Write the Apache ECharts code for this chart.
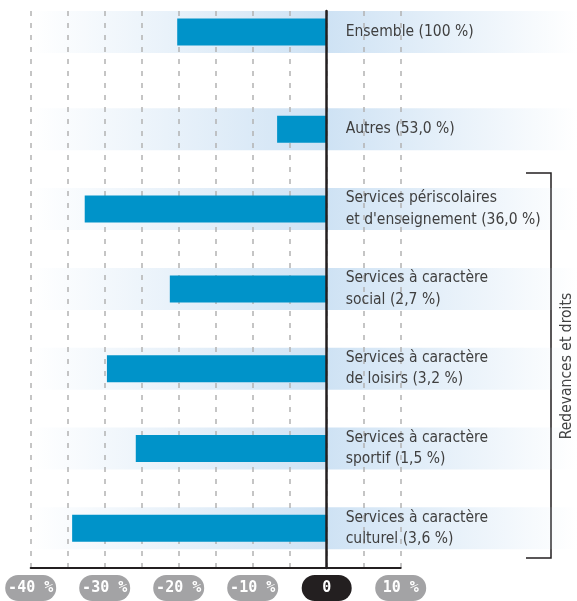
<!DOCTYPE html>
<html lang="fr">
<head>
    <meta charset="UTF-8">
    <title>Redevances et droits</title>
    <style>
        body {
            margin: 0px;
            padding: 0px;
            background: #ffffff;
        }

        #chart {
            width: 577px;
            height: 601px;
        }
    </style>
</head>
<body>
    <div id="chart"></div>
    <script src="https://cdn.jsdelivr.net/npm/echarts@6.0.0/dist/echarts.min.js"></script>
    <script>
        // first row is the total, the rest share one grid
        var categories = [
            'Ensemble (100 %)',
            'Autres (53,0 %)',
            'Services périscolaires\net d\'enseignement (36,0 %)',
            'Services à caractère\nsocial (2,7 %)',
            'Services à caractère\nde loisirs (3,2 %)',
            'Services à caractère\nsportif (1,5 %)',
            'Services à caractère\nculturel (3,6 %)'
        ];
        var values = [-20.2, -6.7, -32.7, -21.2, -29.7, -25.8, -34.4];
        var xMin = -40;
        var xMax = 10;
        var xStep = 5;
        var labelStep = 10;
        var groupTitle = 'Redevances et droits';

        var labelFont = "'DejaVu Sans Condensed', 'DejaVu Sans', sans-serif";
        var barColor = '#0093c9';
        var ink = '#231f20';

        function bandSeries(idx, cats) {
            return {
                type: 'custom',
                xAxisIndex: idx,
                yAxisIndex: idx,
                z: 0,
                silent: true,
                data: cats.map(function (c) { return [0, c]; }),
                encode: { x: 0, y: 1 },
                renderItem: function (params, api) {
                    var row = api.value(1);
                    var start = api.coord([xMin, row]);
                    var zero = api.coord([0, row]);
                    var w = api.getWidth() - start[0];
                    return {
                        type: 'rect',
                        shape: { x: start[0], y: start[1] - 21, width: w, height: 42 },
                        style: {
                            fill: new echarts.graphic.LinearGradient(0, 0, 1, 0, [
                                { offset: 0, color: 'rgba(208,227,244,0)' },
                                { offset: (zero[0] - start[0]) / w, color: 'rgba(206,226,244,1)' },
                                { offset: 1, color: 'rgba(208,227,244,0)' }
                            ])
                        }
                    };
                }
            };
        }

        function hiddenX(idx) {
            return { type: 'value', gridIndex: idx, min: xMin, max: xMax, show: false };
        }

        function catY(idx, cats) {
            return {
                type: 'category',
                gridIndex: idx,
                data: cats,
                inverse: true,
                show: false
            };
        }

        // category names are written just right of the zero line, at the bar's end
        function barSeries(idx, vals) {
            return {
                type: 'bar',
                xAxisIndex: idx,
                yAxisIndex: idx,
                data: vals,
                barWidth: 27,
                z: 2,
                itemStyle: { color: barColor },
                label: {
                    show: true,
                    position: 'right',
                    distance: 19,
                    formatter: '{b}',
                    align: 'left',
                    fontFamily: labelFont,
                    fontSize: 15.5,
                    lineHeight: 21.5,
                    color: '#3f3f3f'
                }
            };
        }

        var topCats = categories.slice(0, 1);
        var restCats = categories.slice(1);

        var pillStyle = {
            backgroundColor: '#a3a3a5',
            color: '#ffffff',
            borderRadius: 13,
            width: 51,
            height: 26,
            lineHeight: 26,
            align: 'center',
            fontFamily: 'DejaVu Sans Mono',
            fontWeight: 'bold',
            fontSize: 15
        };

        var myChart = echarts.init(document.getElementById('chart'));
        var option = {
            backgroundColor: '#ffffff',
            animation: false,
            grid: [
                { left: 30.7, right: 176.3, top: 11, bottom: 32.7 },
                { left: 30.7, right: 176.3, top: 11, height: 42 },
                { left: 30.7, right: 176.3, top: 89.4, bottom: 32.8 }
            ],
            xAxis: [
                {
                    type: 'value',
                    gridIndex: 0,
                    min: xMin,
                    max: xMax,
                    interval: xStep,
                    z: 1,
                    axisLine: { onZero: false, lineStyle: { color: ink, width: 2 } },
                    axisTick: { show: false },
                    splitLine: {
                        show: true,
                        lineStyle: { color: '#b3b3b3', width: 1.5, type: [5, 7] }
                    },
                    axisLabel: {
                        margin: 7,
                        showMinLabel: true,
                        showMaxLabel: true,
                        formatter: function (v) {
                            if (v % labelStep !== 0) return '';
                            if (v === 0) return '{zero|0}';
                            return '{pill|' + v + ' %}';
                        },
                        rich: {
                            pill: pillStyle,
                            zero: Object.assign({}, pillStyle, { backgroundColor: ink, width: 50 })
                        }
                    }
                },
                hiddenX(1),
                hiddenX(2)
            ],
            yAxis: [
                {
                    type: 'value',
                    gridIndex: 0,
                    min: 0,
                    max: 1,
                    z: 4,
                    axisLine: { show: true, onZero: true, lineStyle: { color: ink, width: 2.5 } },
                    axisTick: { show: false },
                    axisLabel: { show: false },
                    splitLine: { show: false }
                },
                catY(1, topCats),
                catY(2, restCats)
            ],
            graphic: [
                {
                    type: 'polyline',
                    shape: { points: [[526, 173], [551, 173], [551, 558], [526, 558]] },
                    style: { stroke: ink, lineWidth: 1.5, fill: null }
                },
                {
                    type: 'text',
                    x: 567,
                    y: 366,
                    rotation: Math.PI / 2,
                    style: {
                        text: groupTitle,
                        fontFamily: labelFont,
                        fontSize: 15.5,
                        fill: '#3f3f3f',
                        align: 'center',
                        verticalAlign: 'middle'
                    }
                }
            ],
            series: [
                bandSeries(1, topCats),
                bandSeries(2, restCats),
                barSeries(1, values.slice(0, 1)),
                barSeries(2, values.slice(1))
            ]
        };
        myChart.setOption(option);
    </script>
</body>
</html>
